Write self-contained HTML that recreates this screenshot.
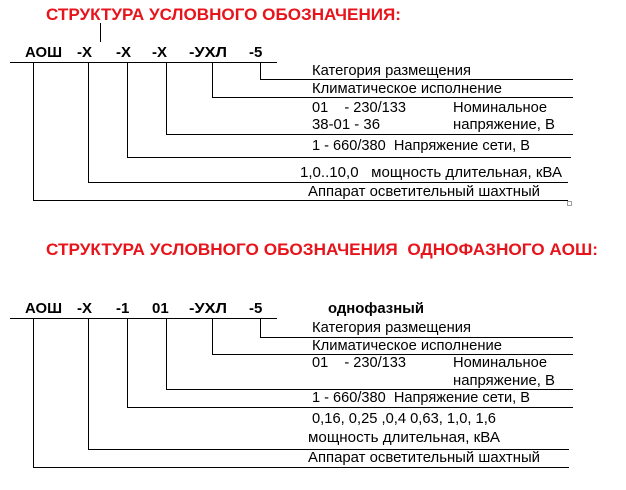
<!DOCTYPE html>
<html><head><meta charset="utf-8"><style>
html,body{margin:0;padding:0;background:#fff;}
svg{display:block;}
text{font-family:"Liberation Sans",Arial,sans-serif;white-space:pre;}
.t{font-size:17px;font-weight:bold;fill:#e8141c;}
.h{font-size:15px;font-weight:bold;fill:#000;}
.n{font-size:15px;fill:#000;}
line{stroke:#000;stroke-width:1;}
</style></head><body>
<svg width="626" height="490" viewBox="0 0 626 490" xmlns="http://www.w3.org/2000/svg" xml:space="preserve">
<text class="t" x="46" y="20" textLength="355" lengthAdjust="spacingAndGlyphs">СТРУКТУРА УСЛОВНОГО ОБОЗНАЧЕНИЯ:</text>
<line x1="100.5" y1="23" x2="100.5" y2="42"/>
<text class="h" x="25" y="57" textLength="37" lengthAdjust="spacingAndGlyphs">АОШ</text>
<text class="h" x="77" y="57">-Х</text>
<text class="h" x="116" y="57">-Х</text>
<text class="h" x="152" y="57">-Х</text>
<text class="h" x="189" y="57" textLength="38" lengthAdjust="spacingAndGlyphs">-УХЛ</text>
<text class="h" x="249" y="57">-5</text>
<line x1="10" y1="62.5" x2="277" y2="62.5"/>
<line x1="33.5" y1="62" x2="33.5" y2="200"/>
<line x1="88.5" y1="62" x2="88.5" y2="182"/>
<line x1="127.5" y1="62" x2="127.5" y2="157"/>
<line x1="166.5" y1="62" x2="166.5" y2="134"/>
<line x1="212.5" y1="62" x2="212.5" y2="97"/>
<line x1="260.5" y1="62" x2="260.5" y2="79"/>
<line x1="260" y1="79.5" x2="573" y2="79.5"/>
<line x1="212" y1="97.5" x2="573" y2="97.5"/>
<line x1="166" y1="134.5" x2="573" y2="134.5"/>
<line x1="127" y1="157.5" x2="571" y2="157.5"/>
<line x1="88" y1="182.5" x2="568" y2="182.5"/>
<line x1="33" y1="200.5" x2="568" y2="200.5"/>
<text class="n" x="312" y="75" textLength="159" lengthAdjust="spacingAndGlyphs">Категория размещения</text>
<text class="n" x="312" y="93" textLength="190" lengthAdjust="spacingAndGlyphs">Климатическое исполнение</text>
<text class="n" x="312" y="112" textLength="94" lengthAdjust="spacingAndGlyphs">01    - 230/133</text>
<text class="n" x="453" y="112" textLength="94" lengthAdjust="spacingAndGlyphs">Номинальное</text>
<text class="n" x="312" y="129" textLength="68" lengthAdjust="spacingAndGlyphs">38-01 - 36</text>
<text class="n" x="453" y="129" textLength="102" lengthAdjust="spacingAndGlyphs">напряжение, В</text>
<text class="n" x="312" y="150" textLength="218" lengthAdjust="spacingAndGlyphs">1 - 660/380  Напряжение сети, В</text>
<text class="n" x="300" y="177" textLength="262" lengthAdjust="spacingAndGlyphs">1,0..10,0   мощность длительная, кВА</text>
<text class="n" x="308" y="196" textLength="232" lengthAdjust="spacingAndGlyphs">Аппарат осветительный шахтный</text>
<rect x="567.5" y="201.5" width="4" height="4" fill="none" stroke="#888" stroke-width="0.8"/>

<text class="t" x="46" y="255" textLength="552" lengthAdjust="spacingAndGlyphs">СТРУКТУРА УСЛОВНОГО ОБОЗНАЧЕНИЯ  ОДНОФАЗНОГО АОШ:</text>
<text class="h" x="25" y="313" textLength="37" lengthAdjust="spacingAndGlyphs">АОШ</text>
<text class="h" x="77" y="313">-Х</text>
<text class="h" x="116" y="313">-1</text>
<text class="h" x="152" y="313">01</text>
<text class="h" x="189" y="313" textLength="38" lengthAdjust="spacingAndGlyphs">-УХЛ</text>
<text class="h" x="249" y="313">-5</text>
<text class="n" x="328" y="313" style="font-weight:bold" textLength="96" lengthAdjust="spacingAndGlyphs">однофазный</text>
<line x1="10" y1="318.5" x2="277" y2="318.5"/>
<line x1="33.5" y1="318" x2="33.5" y2="467"/>
<line x1="88.5" y1="318" x2="88.5" y2="449"/>
<line x1="127.5" y1="318" x2="127.5" y2="407"/>
<line x1="166.5" y1="318" x2="166.5" y2="389"/>
<line x1="212.5" y1="318" x2="212.5" y2="354"/>
<line x1="260.5" y1="318" x2="260.5" y2="337"/>
<line x1="260" y1="337.5" x2="573" y2="337.5"/>
<line x1="212" y1="354.5" x2="573" y2="354.5"/>
<line x1="166" y1="389.5" x2="573" y2="389.5"/>
<line x1="127" y1="407.5" x2="573" y2="407.5"/>
<line x1="88" y1="449.5" x2="569" y2="449.5"/>
<line x1="33" y1="467.5" x2="569" y2="467.5"/>
<text class="n" x="312" y="332" textLength="159" lengthAdjust="spacingAndGlyphs">Категория размещения</text>
<text class="n" x="312" y="350" textLength="190" lengthAdjust="spacingAndGlyphs">Климатическое исполнение</text>
<text class="n" x="312" y="367" textLength="94" lengthAdjust="spacingAndGlyphs">01    - 230/133</text>
<text class="n" x="453" y="367" textLength="94" lengthAdjust="spacingAndGlyphs">Номинальное</text>
<text class="n" x="453" y="385" textLength="102" lengthAdjust="spacingAndGlyphs">напряжение, В</text>
<text class="n" x="312" y="402" textLength="218" lengthAdjust="spacingAndGlyphs">1 - 660/380  Напряжение сети, В</text>
<text class="n" x="312" y="423" textLength="184" lengthAdjust="spacingAndGlyphs">0,16, 0,25 ,0,4 0,63, 1,0, 1,6</text>
<text class="n" x="308" y="442" textLength="192" lengthAdjust="spacingAndGlyphs">мощность длительная, кВА</text>
<text class="n" x="308" y="462" textLength="232" lengthAdjust="spacingAndGlyphs">Аппарат осветительный шахтный</text>
</svg>
</body></html>
